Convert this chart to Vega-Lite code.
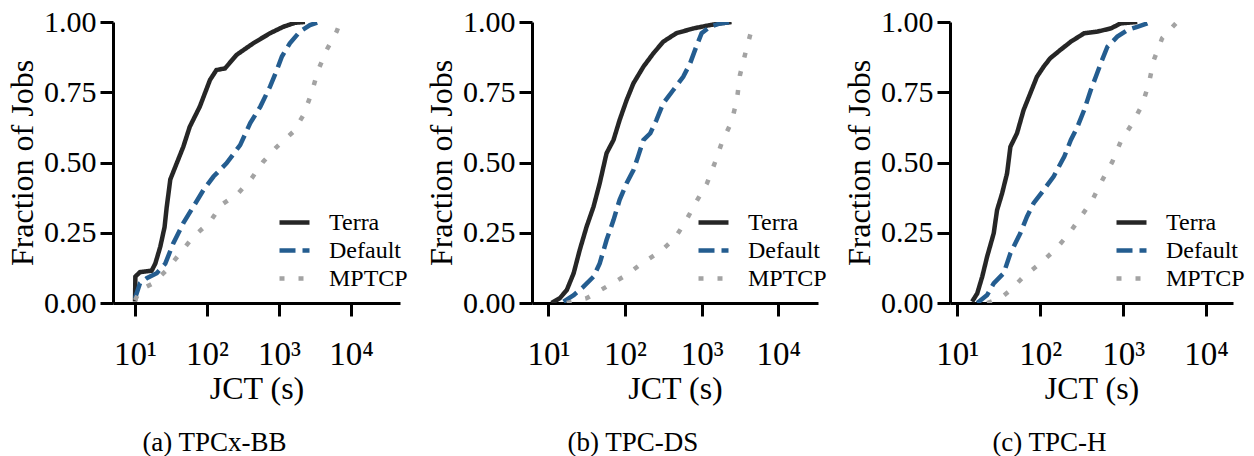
{
  "$schema": "https://vega.github.io/schema/vega-lite/v6.json",
  "background": "white",
  "padding": {"left": 6, "top": 7, "right": 0, "bottom": 0},
  "spacing": 132,
  "bounds": "flush",
  "data": {"values": [
    {"bench":"TPCx-BB","method":"Terra","jct":10,"frac":0.005},
    {"bench":"TPCx-BB","method":"Terra","jct":10.1,"frac":0.094},
    {"bench":"TPCx-BB","method":"Terra","jct":11.7,"frac":0.11},
    {"bench":"TPCx-BB","method":"Terra","jct":17.0,"frac":0.115},
    {"bench":"TPCx-BB","method":"Terra","jct":19.1,"frac":0.14},
    {"bench":"TPCx-BB","method":"Terra","jct":22.4,"frac":0.20},
    {"bench":"TPCx-BB","method":"Terra","jct":25.7,"frac":0.27},
    {"bench":"TPCx-BB","method":"Terra","jct":27.5,"frac":0.34},
    {"bench":"TPCx-BB","method":"Terra","jct":30.9,"frac":0.44},
    {"bench":"TPCx-BB","method":"Terra","jct":36.3,"frac":0.485},
    {"bench":"TPCx-BB","method":"Terra","jct":46.8,"frac":0.556},
    {"bench":"TPCx-BB","method":"Terra","jct":57.5,"frac":0.627},
    {"bench":"TPCx-BB","method":"Terra","jct":79.4,"frac":0.699},
    {"bench":"TPCx-BB","method":"Terra","jct":110,"frac":0.794},
    {"bench":"TPCx-BB","method":"Terra","jct":135,"frac":0.829},
    {"bench":"TPCx-BB","method":"Terra","jct":178,"frac":0.835},
    {"bench":"TPCx-BB","method":"Terra","jct":257,"frac":0.883},
    {"bench":"TPCx-BB","method":"Terra","jct":437,"frac":0.924},
    {"bench":"TPCx-BB","method":"Terra","jct":750,"frac":0.96},
    {"bench":"TPCx-BB","method":"Terra","jct":1148,"frac":0.983},
    {"bench":"TPCx-BB","method":"Terra","jct":1660,"frac":0.997},
    {"bench":"TPCx-BB","method":"Terra","jct":2291,"frac":1.0},
    {"bench":"TPCx-BB","method":"Default","jct":10,"frac":0.017},
    {"bench":"TPCx-BB","method":"Default","jct":11.7,"frac":0.07},
    {"bench":"TPCx-BB","method":"Default","jct":14.5,"frac":0.088},
    {"bench":"TPCx-BB","method":"Default","jct":20.0,"frac":0.106},
    {"bench":"TPCx-BB","method":"Default","jct":26.3,"frac":0.14},
    {"bench":"TPCx-BB","method":"Default","jct":33.9,"frac":0.212},
    {"bench":"TPCx-BB","method":"Default","jct":46.8,"frac":0.284},
    {"bench":"TPCx-BB","method":"Default","jct":64.6,"frac":0.343},
    {"bench":"TPCx-BB","method":"Default","jct":89.1,"frac":0.402},
    {"bench":"TPCx-BB","method":"Default","jct":123,"frac":0.45},
    {"bench":"TPCx-BB","method":"Default","jct":186,"frac":0.497},
    {"bench":"TPCx-BB","method":"Default","jct":288,"frac":0.562},
    {"bench":"TPCx-BB","method":"Default","jct":398,"frac":0.64},
    {"bench":"TPCx-BB","method":"Default","jct":550,"frac":0.699},
    {"bench":"TPCx-BB","method":"Default","jct":750,"frac":0.77},
    {"bench":"TPCx-BB","method":"Default","jct":933,"frac":0.829},
    {"bench":"TPCx-BB","method":"Default","jct":1096,"frac":0.877},
    {"bench":"TPCx-BB","method":"Default","jct":1413,"frac":0.924},
    {"bench":"TPCx-BB","method":"Default","jct":1950,"frac":0.966},
    {"bench":"TPCx-BB","method":"Default","jct":2692,"frac":0.989},
    {"bench":"TPCx-BB","method":"Default","jct":3548,"frac":1.0},
    {"bench":"TPCx-BB","method":"MPTCP","jct":10,"frac":0.01},
    {"bench":"TPCx-BB","method":"MPTCP","jct":11.7,"frac":0.046},
    {"bench":"TPCx-BB","method":"MPTCP","jct":17.8,"frac":0.07},
    {"bench":"TPCx-BB","method":"MPTCP","jct":27.5,"frac":0.117},
    {"bench":"TPCx-BB","method":"MPTCP","jct":42.2,"frac":0.177},
    {"bench":"TPCx-BB","method":"MPTCP","jct":64.6,"frac":0.236},
    {"bench":"TPCx-BB","method":"MPTCP","jct":110,"frac":0.289},
    {"bench":"TPCx-BB","method":"MPTCP","jct":158,"frac":0.349},
    {"bench":"TPCx-BB","method":"MPTCP","jct":269,"frac":0.39},
    {"bench":"TPCx-BB","method":"MPTCP","jct":417,"frac":0.444},
    {"bench":"TPCx-BB","method":"MPTCP","jct":603,"frac":0.503},
    {"bench":"TPCx-BB","method":"MPTCP","jct":933,"frac":0.556},
    {"bench":"TPCx-BB","method":"MPTCP","jct":1585,"frac":0.61},
    {"bench":"TPCx-BB","method":"MPTCP","jct":2188,"frac":0.669},
    {"bench":"TPCx-BB","method":"MPTCP","jct":2818,"frac":0.746},
    {"bench":"TPCx-BB","method":"MPTCP","jct":3467,"frac":0.826},
    {"bench":"TPCx-BB","method":"MPTCP","jct":4571,"frac":0.90},
    {"bench":"TPCx-BB","method":"MPTCP","jct":6310,"frac":0.966},
    {"bench":"TPCx-BB","method":"MPTCP","jct":7079,"frac":1.0},

    {"bench":"TPC-DS","method":"Terra","jct":11.0,"frac":0.0},
    {"bench":"TPC-DS","method":"Terra","jct":14.1,"frac":0.017},
    {"bench":"TPC-DS","method":"Terra","jct":17.4,"frac":0.046},
    {"bench":"TPC-DS","method":"Terra","jct":21.4,"frac":0.106},
    {"bench":"TPC-DS","method":"Terra","jct":25.7,"frac":0.189},
    {"bench":"TPC-DS","method":"Terra","jct":31.6,"frac":0.272},
    {"bench":"TPC-DS","method":"Terra","jct":38.9,"frac":0.343},
    {"bench":"TPC-DS","method":"Terra","jct":46.8,"frac":0.426},
    {"bench":"TPC-DS","method":"Terra","jct":57.5,"frac":0.533},
    {"bench":"TPC-DS","method":"Terra","jct":70.8,"frac":0.58},
    {"bench":"TPC-DS","method":"Terra","jct":85.1,"frac":0.651},
    {"bench":"TPC-DS","method":"Terra","jct":105,"frac":0.722},
    {"bench":"TPC-DS","method":"Terra","jct":129,"frac":0.782},
    {"bench":"TPC-DS","method":"Terra","jct":174,"frac":0.841},
    {"bench":"TPC-DS","method":"Terra","jct":234,"frac":0.888},
    {"bench":"TPC-DS","method":"Terra","jct":316,"frac":0.93},
    {"bench":"TPC-DS","method":"Terra","jct":468,"frac":0.96},
    {"bench":"TPC-DS","method":"Terra","jct":776,"frac":0.977},
    {"bench":"TPC-DS","method":"Terra","jct":1288,"frac":0.989},
    {"bench":"TPC-DS","method":"Terra","jct":1738,"frac":0.995},
    {"bench":"TPC-DS","method":"Terra","jct":2455,"frac":1.0},
    {"bench":"TPC-DS","method":"Default","jct":15.8,"frac":0.005},
    {"bench":"TPC-DS","method":"Default","jct":21.4,"frac":0.028},
    {"bench":"TPC-DS","method":"Default","jct":28.8,"frac":0.058},
    {"bench":"TPC-DS","method":"Default","jct":38.9,"frac":0.094},
    {"bench":"TPC-DS","method":"Default","jct":46.8,"frac":0.141},
    {"bench":"TPC-DS","method":"Default","jct":57.5,"frac":0.224},
    {"bench":"TPC-DS","method":"Default","jct":70.8,"frac":0.295},
    {"bench":"TPC-DS","method":"Default","jct":85.1,"frac":0.367},
    {"bench":"TPC-DS","method":"Default","jct":105,"frac":0.426},
    {"bench":"TPC-DS","method":"Default","jct":129,"frac":0.473},
    {"bench":"TPC-DS","method":"Default","jct":148,"frac":0.521},
    {"bench":"TPC-DS","method":"Default","jct":174,"frac":0.58},
    {"bench":"TPC-DS","method":"Default","jct":214,"frac":0.604},
    {"bench":"TPC-DS","method":"Default","jct":257,"frac":0.651},
    {"bench":"TPC-DS","method":"Default","jct":316,"frac":0.711},
    {"bench":"TPC-DS","method":"Default","jct":427,"frac":0.758},
    {"bench":"TPC-DS","method":"Default","jct":575,"frac":0.805},
    {"bench":"TPC-DS","method":"Default","jct":708,"frac":0.853},
    {"bench":"TPC-DS","method":"Default","jct":851,"frac":0.912},
    {"bench":"TPC-DS","method":"Default","jct":1000,"frac":0.96},
    {"bench":"TPC-DS","method":"Default","jct":1288,"frac":0.983},
    {"bench":"TPC-DS","method":"Default","jct":1738,"frac":0.995},
    {"bench":"TPC-DS","method":"Default","jct":2455,"frac":1.0},
    {"bench":"TPC-DS","method":"MPTCP","jct":17.4,"frac":0.0},
    {"bench":"TPC-DS","method":"MPTCP","jct":31.6,"frac":0.017},
    {"bench":"TPC-DS","method":"MPTCP","jct":57.5,"frac":0.058},
    {"bench":"TPC-DS","method":"MPTCP","jct":105,"frac":0.1},
    {"bench":"TPC-DS","method":"MPTCP","jct":166,"frac":0.141},
    {"bench":"TPC-DS","method":"MPTCP","jct":288,"frac":0.183},
    {"bench":"TPC-DS","method":"MPTCP","jct":447,"frac":0.23},
    {"bench":"TPC-DS","method":"MPTCP","jct":631,"frac":0.295},
    {"bench":"TPC-DS","method":"MPTCP","jct":851,"frac":0.36},
    {"bench":"TPC-DS","method":"MPTCP","jct":1175,"frac":0.426},
    {"bench":"TPC-DS","method":"MPTCP","jct":1479,"frac":0.497},
    {"bench":"TPC-DS","method":"MPTCP","jct":1820,"frac":0.568},
    {"bench":"TPC-DS","method":"MPTCP","jct":2455,"frac":0.645},
    {"bench":"TPC-DS","method":"MPTCP","jct":2884,"frac":0.722},
    {"bench":"TPC-DS","method":"MPTCP","jct":3162,"frac":0.811},
    {"bench":"TPC-DS","method":"MPTCP","jct":3715,"frac":0.888},
    {"bench":"TPC-DS","method":"MPTCP","jct":4467,"frac":0.971},
    {"bench":"TPC-DS","method":"MPTCP","jct":5012,"frac":1.0},

    {"bench":"TPC-H","method":"Terra","jct":15.1,"frac":0.005},
    {"bench":"TPC-H","method":"Terra","jct":17.4,"frac":0.034},
    {"bench":"TPC-H","method":"Terra","jct":20.0,"frac":0.094},
    {"bench":"TPC-H","method":"Terra","jct":22.9,"frac":0.165},
    {"bench":"TPC-H","method":"Terra","jct":27.5,"frac":0.248},
    {"bench":"TPC-H","method":"Terra","jct":30.2,"frac":0.331},
    {"bench":"TPC-H","method":"Terra","jct":34.7,"frac":0.39},
    {"bench":"TPC-H","method":"Terra","jct":39.8,"frac":0.461},
    {"bench":"TPC-H","method":"Terra","jct":43.7,"frac":0.556},
    {"bench":"TPC-H","method":"Terra","jct":52.5,"frac":0.604},
    {"bench":"TPC-H","method":"Terra","jct":63.1,"frac":0.687},
    {"bench":"TPC-H","method":"Terra","jct":75.9,"frac":0.746},
    {"bench":"TPC-H","method":"Terra","jct":91.2,"frac":0.805},
    {"bench":"TPC-H","method":"Terra","jct":110,"frac":0.841},
    {"bench":"TPC-H","method":"Terra","jct":132,"frac":0.871},
    {"bench":"TPC-H","method":"Terra","jct":174,"frac":0.90},
    {"bench":"TPC-H","method":"Terra","jct":234,"frac":0.93},
    {"bench":"TPC-H","method":"Terra","jct":339,"frac":0.96},
    {"bench":"TPC-H","method":"Terra","jct":490,"frac":0.966},
    {"bench":"TPC-H","method":"Terra","jct":708,"frac":0.977},
    {"bench":"TPC-H","method":"Terra","jct":933,"frac":0.995},
    {"bench":"TPC-H","method":"Terra","jct":1479,"frac":1.0},
    {"bench":"TPC-H","method":"Default","jct":17.4,"frac":0.0},
    {"bench":"TPC-H","method":"Default","jct":22.9,"frac":0.028},
    {"bench":"TPC-H","method":"Default","jct":27.5,"frac":0.07},
    {"bench":"TPC-H","method":"Default","jct":36.3,"frac":0.106},
    {"bench":"TPC-H","method":"Default","jct":43.7,"frac":0.177},
    {"bench":"TPC-H","method":"Default","jct":57.5,"frac":0.248},
    {"bench":"TPC-H","method":"Default","jct":69.2,"frac":0.307},
    {"bench":"TPC-H","method":"Default","jct":83.2,"frac":0.355},
    {"bench":"TPC-H","method":"Default","jct":110,"frac":0.402},
    {"bench":"TPC-H","method":"Default","jct":145,"frac":0.45},
    {"bench":"TPC-H","method":"Default","jct":195,"frac":0.521},
    {"bench":"TPC-H","method":"Default","jct":234,"frac":0.58},
    {"bench":"TPC-H","method":"Default","jct":282,"frac":0.628},
    {"bench":"TPC-H","method":"Default","jct":339,"frac":0.687},
    {"bench":"TPC-H","method":"Default","jct":407,"frac":0.758},
    {"bench":"TPC-H","method":"Default","jct":468,"frac":0.805},
    {"bench":"TPC-H","method":"Default","jct":537,"frac":0.853},
    {"bench":"TPC-H","method":"Default","jct":646,"frac":0.912},
    {"bench":"TPC-H","method":"Default","jct":851,"frac":0.948},
    {"bench":"TPC-H","method":"Default","jct":1122,"frac":0.971},
    {"bench":"TPC-H","method":"Default","jct":1479,"frac":0.983},
    {"bench":"TPC-H","method":"Default","jct":1950,"frac":0.995},
    {"bench":"TPC-H","method":"Default","jct":2138,"frac":1.0},
    {"bench":"TPC-H","method":"MPTCP","jct":22.9,"frac":0.0},
    {"bench":"TPC-H","method":"MPTCP","jct":33.1,"frac":0.017},
    {"bench":"TPC-H","method":"MPTCP","jct":43.7,"frac":0.046},
    {"bench":"TPC-H","method":"MPTCP","jct":63.1,"frac":0.094},
    {"bench":"TPC-H","method":"MPTCP","jct":100,"frac":0.141},
    {"bench":"TPC-H","method":"MPTCP","jct":151,"frac":0.189},
    {"bench":"TPC-H","method":"MPTCP","jct":224,"frac":0.248},
    {"bench":"TPC-H","method":"MPTCP","jct":309,"frac":0.307},
    {"bench":"TPC-H","method":"MPTCP","jct":427,"frac":0.367},
    {"bench":"TPC-H","method":"MPTCP","jct":562,"frac":0.438},
    {"bench":"TPC-H","method":"MPTCP","jct":741,"frac":0.503},
    {"bench":"TPC-H","method":"MPTCP","jct":933,"frac":0.574},
    {"bench":"TPC-H","method":"MPTCP","jct":1288,"frac":0.639},
    {"bench":"TPC-H","method":"MPTCP","jct":1698,"frac":0.705},
    {"bench":"TPC-H","method":"MPTCP","jct":2042,"frac":0.782},
    {"bench":"TPC-H","method":"MPTCP","jct":2344,"frac":0.865},
    {"bench":"TPC-H","method":"MPTCP","jct":2951,"frac":0.942},
    {"bench":"TPC-H","method":"MPTCP","jct":4467,"frac":1.0}
  ]},
  "hconcat": [
    {
      "width": 287, "height": 281,
      "title": {"text": "(a) TPCx-BB", "dx": -42},
      "transform": [{"filter": "datum.bench === 'TPCx-BB'"}],
      "mark": {"type": "line", "strokeWidth": 4.5, "strokeCap": "butt", "clip": true},
      "encoding": {
        "x": {"field": "jct", "type": "quantitative", "title": "JCT (s)",
              "scale": {"type": "log", "domain": [4.94, 47900], "nice": false},
              "axis": {"values": [10, 100, 1000, 10000], "labelExpr": "'10' + (datum.value == 10 ? '¹' : datum.value == 100 ? '²' : datum.value == 1000 ? '³' : '⁴')"}},
        "y": {"field": "frac", "type": "quantitative", "title": "Fraction of Jobs",
              "scale": {"domain": [0, 1], "nice": false},
              "axis": {"values": [0, 0.25, 0.5, 0.75, 1], "format": ".2f"}},
        "color": {"field": "method", "type": "nominal", "title": null,
                  "scale": {"domain": ["Terra", "Default", "MPTCP"], "range": ["#262626", "#245d90", "#a3a3a3"]}},
        "strokeDash": {"field": "method", "type": "nominal", "title": null,
                  "scale": {"domain": ["Terra", "Default", "MPTCP"], "range": [[1, 0], [16, 7], [5, 14]]}}
      }
    },
    {
      "width": 286, "height": 281,
      "title": {"text": "(b) TPC-DS", "dx": -42},
      "transform": [{"filter": "datum.bench === 'TPC-DS'"}],
      "mark": {"type": "line", "strokeWidth": 4.5, "strokeCap": "butt", "clip": true},
      "encoding": {
        "x": {"field": "jct", "type": "quantitative", "title": "JCT (s)",
              "scale": {"type": "log", "domain": [6.12, 33000], "nice": false},
              "axis": {"values": [10, 100, 1000, 10000], "labelExpr": "'10' + (datum.value == 10 ? '¹' : datum.value == 100 ? '²' : datum.value == 1000 ? '³' : '⁴')"}},
        "y": {"field": "frac", "type": "quantitative", "title": "Fraction of Jobs",
              "scale": {"domain": [0, 1], "nice": false},
              "axis": {"values": [0, 0.25, 0.5, 0.75, 1], "format": ".2f"}},
        "color": {"field": "method", "type": "nominal", "title": null,
                  "scale": {"domain": ["Terra", "Default", "MPTCP"], "range": ["#262626", "#245d90", "#a3a3a3"]}},
        "strokeDash": {"field": "method", "type": "nominal", "title": null,
                  "scale": {"domain": ["Terra", "Default", "MPTCP"], "range": [[1, 0], [16, 7], [5, 14]]}}
      }
    },
    {
      "width": 283, "height": 281,
      "title": {"text": "(c) TPC-H", "dx": -42},
      "transform": [{"filter": "datum.bench === 'TPC-H'"}],
      "mark": {"type": "line", "strokeWidth": 4.5, "strokeCap": "butt", "clip": true},
      "encoding": {
        "x": {"field": "jct", "type": "quantitative", "title": "JCT (s)",
              "scale": {"type": "log", "domain": [8.17, 21100], "nice": false},
              "axis": {"values": [10, 100, 1000, 10000], "labelExpr": "'10' + (datum.value == 10 ? '¹' : datum.value == 100 ? '²' : datum.value == 1000 ? '³' : '⁴')"}},
        "y": {"field": "frac", "type": "quantitative", "title": "Fraction of Jobs",
              "scale": {"domain": [0, 1], "nice": false},
              "axis": {"values": [0, 0.25, 0.5, 0.75, 1], "format": ".2f"}},
        "color": {"field": "method", "type": "nominal", "title": null,
                  "scale": {"domain": ["Terra", "Default", "MPTCP"], "range": ["#262626", "#245d90", "#a3a3a3"]}},
        "strokeDash": {"field": "method", "type": "nominal", "title": null,
                  "scale": {"domain": ["Terra", "Default", "MPTCP"], "range": [[1, 0], [16, 7], [5, 14]]}}
      }
    }
  ],
  "resolve": {
    "scale": {"x": "independent", "y": "independent", "color": "independent", "strokeDash": "independent"},
    "legend": {"color": "independent", "strokeDash": "independent"}
  },
  "config": {
    "font": "Liberation Serif",
    "view": {"stroke": null},
    "title": {"orient": "bottom", "anchor": "middle", "frame": "group", "offset": 26, "fontSize": 27, "fontWeight": "normal", "font": "Liberation Serif", "color": "black"},
    "axis": {
      "grid": false, "domainColor": "black", "domainWidth": 3, "tickColor": "black", "tickWidth": 3, "tickSize": 13,
      "labelFont": "Liberation Serif", "labelFontSize": 30, "labelColor": "black", "labelPadding": 4, "labelFlush": false,
      "titleFont": "Liberation Serif", "titleFontSize": 32, "titleFontWeight": "normal", "titleColor": "black"
    },
    "axisX": {"labelFontSize": 33, "labelPadding": 22, "titlePadding": 2},
    "axisY": {"titlePadding": 4},
    "legend": {
      "orient": "none", "legendX": 169, "legendY": 188, "padding": 0,
      "symbolType": "M-1.5,0H1.5", "symbolSize": 400, "symbolStrokeWidth": 4.5, "symbolFillColor": "transparent",
      "labelFont": "Liberation Serif", "labelFontSize": 24, "labelColor": "black", "labelOffset": 22, "rowPadding": 3
    }
  }
}
